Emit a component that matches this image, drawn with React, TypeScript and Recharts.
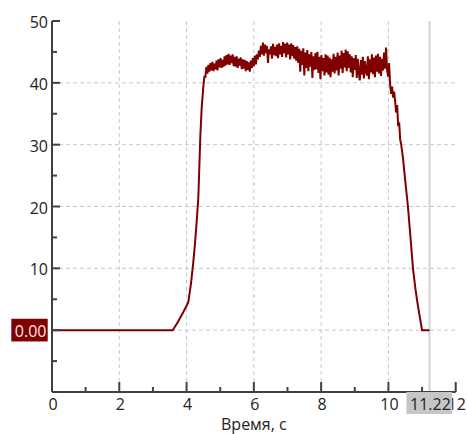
import { CartesianGrid, Line, LineChart, ReferenceLine, XAxis, YAxis } from "recharts";

const LINE_COLOR = "#800000";
const AXIS_COLOR = "#404040";
const GRID_COLOR = "#c8c8c8";
const TEXT_COLOR = "#222222";
const CURSOR_LINE_COLOR = "#d2d2d2";
const CURSOR_BADGE_COLOR = "#c6c6c6";
const FONT = '"Open Sans", "DejaVu Sans", sans-serif';

// axes
const X_DOMAIN = [0, 12];
const Y_DOMAIN = [-10, 50];
const X_TICKS = [0, 1, 2, 3, 4, 5, 6, 7, 8, 9, 10, 11, 12];
const Y_TICKS = [-10, -5, 0, 5, 10, 15, 20, 25, 30, 35, 40, 45, 50];
const GRID_X = [2, 4, 6, 8, 10];
const GRID_Y = [0, 10, 20, 30, 40];

// cursor readout (vertical marker + value badges)
const CURSOR_T = 11.22;
const CURSOR_VALUE = 0;

// start and ramp-up
const riseTime = [0, 3.59, 3.75, 3.9, 4.05, 4.13, 4.2, 4.25, 4.3, 4.35, 4.38, 4.41, 4.45, 4.5, 4.53];
const riseValue = [0, 0, 1.4, 2.9, 4.5, 7.5, 11.0, 14.0, 17.5, 21.5, 26.5, 31.5, 36.0, 39.5, 41.0];

// plateau, sampled every 0.03 s from 4.56 s
const PLATEAU_START = 4.56;
const PLATEAU_STEP = 0.03;
const plateauValue = [
  41.0, 42.6, 41.5, 42.9, 41.8, 43.2, 42.0, 43.4, 41.9, 43.1,
  42.2, 43.6, 42.0, 43.8, 42.5, 44.0, 42.4, 43.7, 42.6, 44.3,
  42.8, 44.5, 43.0, 44.7, 42.9, 44.4, 43.2, 44.6, 42.7, 44.2,
  42.6, 44.3, 42.4, 43.9, 42.8, 44.1, 42.2, 43.8, 42.3, 43.7,
  41.9, 43.5, 42.1, 43.3, 41.8, 43.6, 42.4, 44.0, 42.7, 44.4,
  43.0, 44.6, 43.8, 45.2, 44.2, 46.0, 44.6, 46.5, 44.4, 46.2,
  44.8, 46.0, 43.2, 45.4, 44.6, 45.9, 43.9, 46.3, 44.5, 45.8,
  44.3, 46.2, 44.0, 46.4, 44.6, 46.0, 44.2, 46.6, 44.8, 46.3,
  44.1, 46.5, 44.6, 46.2, 43.8, 46.4, 44.3, 46.1, 43.9, 45.8,
  43.6, 45.9, 43.2, 45.5, 41.8, 45.2, 42.9, 45.6, 41.2, 44.9,
  42.4, 45.3, 41.9, 44.6, 42.6, 45.0, 40.8, 44.3, 42.1, 44.8,
  42.2, 45.0, 41.6, 44.2, 40.6, 44.5, 41.9, 44.0, 41.2, 44.6,
  41.7, 44.4, 41.3, 44.1, 40.9, 43.8, 41.8, 44.7, 41.5, 44.2,
  42.0, 44.9, 41.2, 44.4, 42.3, 45.2, 41.6, 44.8, 42.5, 45.4,
  41.9, 45.1, 42.4, 44.6, 41.7, 44.3, 40.9, 44.0, 42.1, 44.5,
  40.8, 43.9, 41.6, 40.4, 43.7, 41.3, 44.2, 40.7, 43.5, 41.9,
  41.2, 44.3, 40.6, 43.8, 41.7, 44.6, 41.4, 44.1, 40.9, 44.4,
  41.8, 44.7, 41.5, 44.2, 41.1, 43.9, 42.0, 44.9, 42.3, 45.7,
  42.1, 41.0, 43.2, 39.8, 38.2, 39.4, 37.6, 38.6,
];

// run-down to zero
const fallTime = [10.2, 10.23, 10.26, 10.29, 10.32, 10.35, 10.38, 10.43, 10.5, 10.58, 10.65, 10.73, 10.8, 10.85, 10.9, 10.95, 11.0, 11.22];
const fallValue = [37.0, 35.2, 36.4, 33.0, 33.6, 30.8, 30.0, 28.0, 24.2, 20.0, 15.4, 10.0, 6.8, 4.9, 3.2, 1.6, 0, 0];

const data = [
  ...riseTime.map((t, i) => ({ t, v: riseValue[i] })),
  ...plateauValue.map((v, i) => ({ t: +(PLATEAU_START + i * PLATEAU_STEP).toFixed(2), v })),
  ...fallTime.map((t, i) => ({ t, v: fallValue[i] })),
];

const textProps = { fontFamily: FONT, fontSize: 16, fill: TEXT_COLOR };

function BottomTick({ x, y, payload }: any) {
  const v = payload.value;
  if (v === CURSOR_T) {
    return (
      <g>
        <rect x={x - 23} y={y} width={45.7} height={22} fill={CURSOR_BADGE_COLOR} />
        <text x={x + 1} y={y + 17.5} textAnchor="middle" {...textProps}>
          {CURSOR_T.toFixed(2)}
        </text>
      </g>
    );
  }
  const major = v % 2 === 0;
  return (
    <g>
      <line x1={x} x2={x} y1={y} y2={y - (major ? 10 : 5)} stroke={AXIS_COLOR} strokeWidth={2} />
      {major && (
        <text x={x + 1} y={y + 18} textAnchor="middle" {...textProps}>
          {v}
        </text>
      )}
    </g>
  );
}

function LeftTick({ x, y, payload }: any) {
  const v = payload.value;
  const major = v % 10 === 0;
  return (
    <g>
      <line x1={x} x2={x + (major ? 8 : 5)} y1={y} y2={y} stroke={AXIS_COLOR} strokeWidth={2} />
      {v === CURSOR_VALUE ? (
        <g>
          <rect x={x - 40.7} y={y - 11.4} width={36.4} height={22.7} fill={LINE_COLOR} />
          <text x={x - 5.5} y={y + 7} textAnchor="end" {...textProps} fill="#f4eaea">
            {CURSOR_VALUE.toFixed(2)}
          </text>
        </g>
      ) : (
        major &&
        v > Y_DOMAIN[0] && (
          <text x={x - 4} y={y + 7} textAnchor="end" {...textProps}>
            {v}
          </text>
        )
      )}
    </g>
  );
}

function TopTick({ x, y, payload }: any) {
  const major = payload.value % 2 === 0;
  return <line x1={x} x2={x} y1={y} y2={y + (major ? 8 : 4)} stroke={AXIS_COLOR} strokeWidth={2} />;
}

function RightTick({ x, y, payload }: any) {
  const major = payload.value % 10 === 0;
  return <line x1={x} x2={x - (major ? 8 : 4)} y1={y} y2={y} stroke={AXIS_COLOR} strokeWidth={2} />;
}

const axisLine = { stroke: AXIS_COLOR, strokeWidth: 2 };

export default function App() {
  return (
    <div style={{ position: "absolute", left: 0, top: 0 }}>
      <LineChart width={467} height={434} data={data} margin={{ top: 21, right: 11.3, left: 0, bottom: 0 }}>
        <CartesianGrid
          stroke={GRID_COLOR}
          strokeDasharray="4 3"
          verticalCoordinatesGenerator={({ xAxis, offset }: any) =>
            GRID_X.map((v) =>
              typeof xAxis?.scale === "function"
                ? xAxis.scale(v)
                : offset.left + ((v - X_DOMAIN[0]) / (X_DOMAIN[1] - X_DOMAIN[0])) * offset.width
            )
          }
          horizontalCoordinatesGenerator={({ yAxis, offset }: any) =>
            GRID_Y.map((v) =>
              typeof yAxis?.scale === "function"
                ? yAxis.scale(v)
                : offset.top + ((Y_DOMAIN[1] - v) / (Y_DOMAIN[1] - Y_DOMAIN[0])) * offset.height
            )
          }
        />
        <XAxis
          dataKey="t"
          type="number"
          domain={X_DOMAIN}
          allowDataOverflow
          ticks={[...X_TICKS, CURSOR_T]}
          interval={0}
          height={42}
          tickSize={0}
          tickMargin={0}
          tickLine={false}
          axisLine={axisLine}
          tick={<BottomTick />}
          label={{ value: "Время, с", position: "insideBottom", offset: 4, ...textProps }}
        />
        <XAxis
          xAxisId="top"
          orientation="top"
          type="number"
          domain={X_DOMAIN}
          allowDataOverflow
          ticks={X_TICKS}
          interval={0}
          height={0}
          tickSize={0}
          tickMargin={0}
          tickLine={false}
          axisLine={axisLine}
          tick={<TopTick />}
        />
        <YAxis
          type="number"
          domain={Y_DOMAIN}
          allowDataOverflow
          ticks={Y_TICKS}
          interval={0}
          width={52}
          tickSize={0}
          tickMargin={0}
          tickLine={false}
          axisLine={axisLine}
          tick={<LeftTick />}
        />
        <YAxis
          yAxisId="right"
          orientation="right"
          type="number"
          domain={Y_DOMAIN}
          allowDataOverflow
          ticks={Y_TICKS}
          interval={0}
          width={0}
          tickSize={0}
          tickMargin={0}
          tickLine={false}
          axisLine={axisLine}
          tick={<RightTick />}
        />
        <ReferenceLine x={CURSOR_T} stroke={CURSOR_LINE_COLOR} strokeWidth={2} />
        <Line
          type="linear"
          dataKey="v"
          stroke={LINE_COLOR}
          strokeWidth={2}
          dot={false}
          isAnimationActive={false}
        />
      </LineChart>
    </div>
  );
}
